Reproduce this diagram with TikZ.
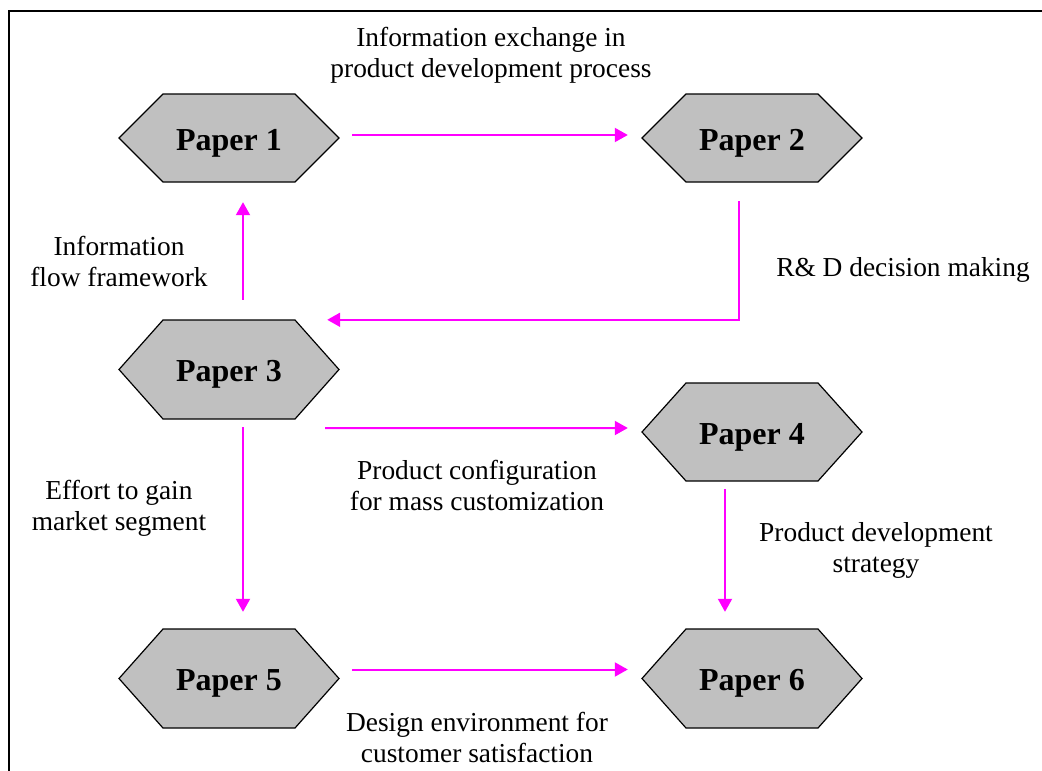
\documentclass[tikz,border=0pt]{standalone}
\usepackage{fontspec}
\setmainfont{Liberation Serif}
\usetikzlibrary{arrows.meta,calc}
\definecolor{flowpink}{RGB}{255,0,255}
\definecolor{hexgray}{RGB}{192,192,192}
% hexagon with text: name, centre x, centre y, height, text
\newcommand\paperhex[5]{%
  \draw[hexline] ({#2-110},#3) -- ({#2-66},{#3-#4/2}) -- ({#2+66},{#3-#4/2})
    -- ({#2+110},#3) -- ({#2+66},{#3+#4/2}) -- ({#2-66},{#3+#4/2}) -- cycle;
  \node[paper, minimum height=#4] (#1) at (#2,#3) {#5};}
\begin{document}
\begin{tikzpicture}[x=1pt,y=-1pt,
  hexline/.style={draw=black, fill=hexgray, line width=1.2pt, line join=miter},
  paper/.style={shape=rectangle, minimum width=220pt, inner sep=0pt,
    text height=24pt, text depth=0pt,
    font=\fontsize{32}{36}\selectfont\bfseries},
  flow/.style={draw=flowpink, line width=2pt,
    -{Triangle[length=13pt,width=14pt]}},
  lbl/.style={align=center, inner sep=0pt,
    font=\fontsize{27.4}{31}\selectfont}]
\useasboundingbox (0,0) rectangle (1042,771);
% outer frame (left and top edges)
\draw[line width=2.2pt] (9,771) -- (9,11) -- (1042,11);

\paperhex{p1}{229}{138}{88}{Paper 1}
\paperhex{p2}{752}{138}{88}{Paper 2}
\paperhex{p3}{229}{369.5}{99}{Paper 3}
\paperhex{p4}{752}{432}{98}{Paper 4}
\paperhex{p5}{229}{678.5}{99}{Paper 5}
\paperhex{p6}{752}{678.5}{99}{Paper 6}

\draw[flow] ($(p1.east)+(13,-3)$) -- ($(p2.west)+(-14,-3)$);
\draw[flow] ($(p3.north)+(14,-20)$) -- ($(p1.south)+(14,20)$);
\draw[flow] ($(p2.south)+(-13,19)$) |- ($(p3.north east)+(-12,0)$);
\draw[flow] ($(p3.south east)+(-14,9)$) -- ($(p4.west)+(-14,-4)$);
\draw[flow] ($(p3.south)+(14,8)$) -- ($(p5.north)+(14,-17)$);
\draw[flow] ($(p4.south)+(-27,8)$) -- ($(p6.north)+(-27,-17)$);
\draw[flow] ($(p5.east)+(13,-9)$) -- ($(p6.west)+(-14,-9)$);

\node[lbl] (l12) at (491,55.5) {Information exchange in\\product development process};
\node[lbl] (l31) at (119,261) {Information\\flow framework};
\node[lbl] (l23) at (903,269.5) {R\& D decision making};
\node[lbl] (l34) at (477,485.5) {Product configuration\\for mass customization};
\node[lbl] (l35) at (119,508.5) {Effort to gain\\market segment};
\node[lbl] (l46) at (876,550) {Product development\\strategy};
\node[lbl] (l56) at (477,737.5) {Design environment for\\customer satisfaction};
\end{tikzpicture}
\end{document}
